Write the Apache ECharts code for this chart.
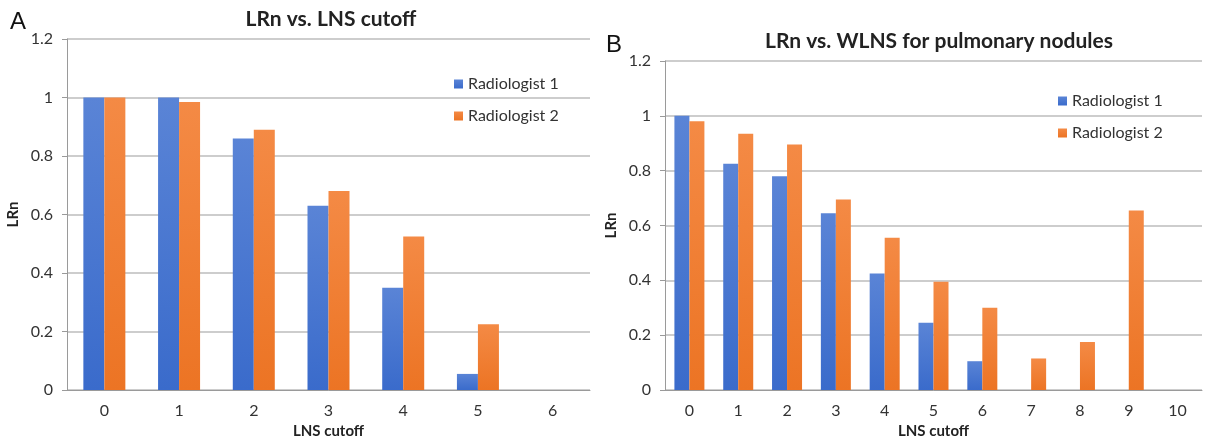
<!DOCTYPE html>
<html>
<head>
<meta charset="utf-8">
<script src="https://cdn.jsdelivr.net/npm/echarts@6/dist/echarts.min.js"></script>
<style>
  html, body { margin: 0; padding: 0; background: #fff; }
  #main { width: 1206px; height: 444px; }
</style>
</head>
<body>
<div id="main"></div>
<script>
  // panel A: LRn vs. LNS cutoff
  var cutoffA = ['0', '1', '2', '3', '4', '5', '6'];
  var rad1A = [1, 1, 0.86, 0.63, 0.35, 0.055, 0];
  var rad2A = [1, 0.985, 0.89, 0.68, 0.525, 0.225, 0];

  // panel B: LRn vs. WLNS for pulmonary nodules
  var cutoffB = ['0', '1', '2', '3', '4', '5', '6', '7', '8', '9', '10'];
  var rad1B = [1, 0.825, 0.78, 0.645, 0.425, 0.245, 0.105, 0, 0, 0, 0];
  var rad2B = [0.98, 0.935, 0.895, 0.695, 0.555, 0.395, 0.3, 0.115, 0.175, 0.655, 0];

  var yTicks = [0, 0.2, 0.4, 0.6, 0.8, 1, 1.2];

  var FONT = 'Lato, "Open Sans", sans-serif';
  var blue = new echarts.graphic.LinearGradient(0, 0, 0, 1, [
    { offset: 0, color: '#5a84d6' }, { offset: 1, color: '#3a6bcb' }]);
  var orange = new echarts.graphic.LinearGradient(0, 0, 0, 1, [
    { offset: 0, color: '#f48a45' }, { offset: 1, color: '#ec7424' }]);

  function xAx(idx, cats) {
    return {
      type: 'category', gridIndex: idx, data: cats,
      name: 'LNS cutoff', nameLocation: 'middle', nameGap: 34,
      nameTextStyle: { fontFamily: FONT, fontWeight: 'bold', fontSize: 15, color: '#222' },
      axisLine: { lineStyle: { color: '#9a9a9a', width: 1 } },
      axisTick: { show: false },
      axisLabel: { fontFamily: FONT, fontSize: 16, color: '#333', margin: 13 }
    };
  }
  function yAx(idx) {
    return {
      type: 'value', gridIndex: idx, min: 0, max: 1.2, interval: 0.2,
      name: 'LRn', nameLocation: 'middle', nameGap: 46,
      nameTextStyle: { fontFamily: FONT, fontWeight: 'bold', fontSize: 15, color: '#222' },
      axisLine: { show: true, lineStyle: { color: '#9a9a9a', width: 1 } },
      axisTick: { show: true, length: 5, lineStyle: { color: '#9a9a9a' } },
      splitLine: { lineStyle: { color: '#bdbdbd', width: 1.5 } },
      axisLabel: {
        fontFamily: FONT, fontSize: 16, color: '#333', margin: 14,
        formatter: function (v) { return yTicks.indexOf(Math.round(v * 10) / 10) >= 0 ? String(Math.round(v * 10) / 10) : ''; }
      }
    };
  }

  var chart = echarts.init(document.getElementById('main'));
  chart.setOption({
    animation: false,
    backgroundColor: '#fff',
    title: [
      { text: 'LRn vs. LNS cutoff', left: 326, top: 4, textAlign: 'center',
        textStyle: { fontFamily: FONT, fontWeight: 'bold', fontSize: 21, color: '#222' } },
      { text: 'LRn vs. WLNS for pulmonary nodules', left: 934, top: 26, textAlign: 'center',
        textStyle: { fontFamily: FONT, fontWeight: 'bold', fontSize: 21, color: '#222' } },
      { text: 'A', left: 5, top: 5,
        textStyle: { fontFamily: '"Liberation Sans", Arial, sans-serif', fontWeight: 'normal', fontSize: 24, color: '#111' } },
      { text: 'B', left: 601, top: 28,
        textStyle: { fontFamily: '"Liberation Sans", Arial, sans-serif', fontWeight: 'normal', fontSize: 24, color: '#111' } }
    ],
    legend: [
      { orient: 'vertical', left: 449, top: 71, itemWidth: 9, itemHeight: 9, itemGap: 16,
        icon: 'rect', data: ['Radiologist 1', 'Radiologist 2'],
        textStyle: { fontFamily: FONT, fontSize: 16, color: '#333' } },
      { orient: 'vertical', left: 1053, top: 88, itemWidth: 9, itemHeight: 9, itemGap: 16,
        icon: 'rect', data: ['Radiologist 1', 'Radiologist 2'],
        textStyle: { fontFamily: FONT, fontSize: 16, color: '#333' } }
    ],
    grid: [
      { left: 67, right: 616, top: 39, bottom: 53 },
      { left: 665, right: 4, top: 61, bottom: 54 }
    ],
    xAxis: [xAx(0, cutoffA), xAx(1, cutoffB)],
    yAxis: [yAx(0), yAx(1)],
    series: [
      { name: 'Radiologist 1', type: 'bar', xAxisIndex: 0, yAxisIndex: 0, data: rad1A,
        barWidth: 21, barGap: '0%', itemStyle: { color: blue } },
      { name: 'Radiologist 2', type: 'bar', xAxisIndex: 0, yAxisIndex: 0, data: rad2A,
        barWidth: 21, barGap: '0%', itemStyle: { color: orange } },
      { name: 'Radiologist 1', type: 'bar', xAxisIndex: 1, yAxisIndex: 1, data: rad1B,
        barWidth: 15, barGap: '0%', itemStyle: { color: blue } },
      { name: 'Radiologist 2', type: 'bar', xAxisIndex: 1, yAxisIndex: 1, data: rad2B,
        barWidth: 15, barGap: '0%', itemStyle: { color: orange } }
    ]
  });
</script>
</body>
</html>
